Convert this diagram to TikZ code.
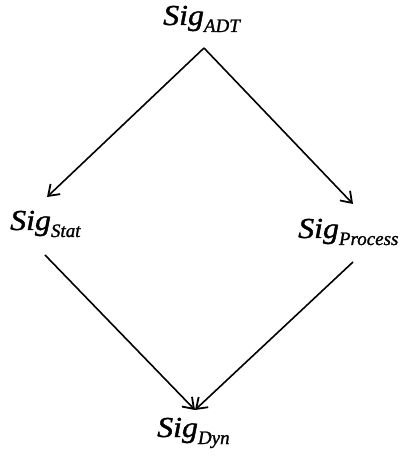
\documentclass[tikz,border=0pt]{standalone}
\usepackage{fontspec}
\setmainfont{Liberation Serif}
\newfontfamily\sigfont{Liberation Serif}[FakeStretch=1.1,ItalicFeatures={FakeBold=1.3}]
\newfontfamily\subfont{Liberation Serif}[ItalicFeatures={FakeBold=1.3}]
\usetikzlibrary{arrows.meta}
\newcommand{\sigsub}[1]{{\sigfont\fontsize{29}{29}\selectfont\itshape Sig\raisebox{-7pt}{\subfont\fontsize{19}{19}\selectfont\itshape #1}}}
\begin{document}
\begin{tikzpicture}[x=1pt,y=1pt,
  lbl/.style={inner sep=0pt, anchor=base west},
  arr/.style={line width=1.6pt, -{Straight Barb[length=10pt,width=14pt,line width=1.8pt]}}]
\useasboundingbox (0,0) rectangle (403,459);
\node[lbl] (adt) at (163,434) {\sigsub{ADT}};
\node[lbl] (stat) at (10,229) {\sigsub{Stat}};
\node[lbl] (proc) at (298,221) {\sigsub{Process}};
\node[lbl] (dyn) at (157,22) {\sigsub{Dyn}};
\draw[arr] ([xshift=41pt,yshift=-23pt]adt.base west) -- ([xshift=37pt,yshift=33pt]stat.base west);
\draw[arr] ([xshift=41pt,yshift=-23pt]adt.base west) -- ([xshift=55pt,yshift=34pt]proc.base west);
\draw[arr] ([xshift=35pt,yshift=-25pt]stat.base west) -- ([xshift=38pt,yshift=27pt]dyn.base west);
\draw[arr] ([xshift=55pt,yshift=-24pt]proc.base west) -- ([xshift=38pt,yshift=27pt]dyn.base west);
\end{tikzpicture}
\end{document}
